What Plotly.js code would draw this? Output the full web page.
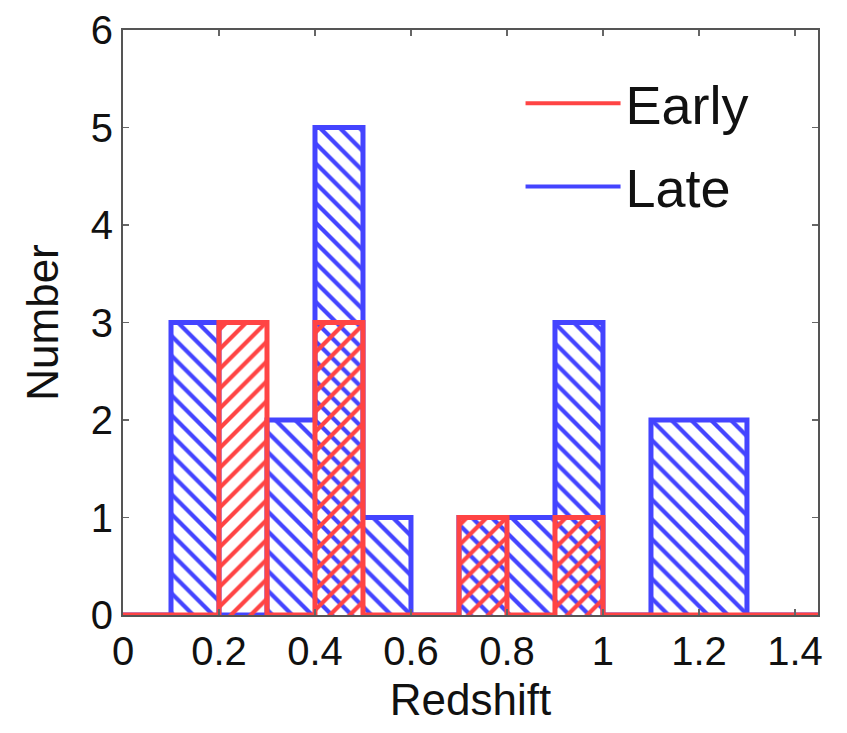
<!DOCTYPE html>
<html>
<head>
<meta charset="utf-8">
<script src="https://cdn.plot.ly/plotly-3.0.1.min.js"></script>
<style>
html,body{margin:0;padding:0;background:#fff;}
#chart{width:847px;height:733px;}
</style>
</head>
<body>
<div id="chart"></div>
<script>
// Bin edges (redshift) and counts per bin
const binEdges = [0, 0.1, 0.2, 0.3, 0.4, 0.5, 0.6, 0.7, 0.8, 0.9, 1.0, 1.1, 1.2, 1.3, 1.4];
const lateCounts  = [0, 3, 0, 2, 5, 1, 0, 1, 1, 3, 0, 2, 2, 0];
const earlyCounts = [0, 0, 3, 0, 3, 0, 0, 1, 0, 1, 0, 0, 0, 0];
const seriesNames = ["Early", "Late"];
const xTicks = [0, 0.2, 0.4, 0.6, 0.8, 1, 1.2, 1.4];
const yTicks = [0, 1, 2, 3, 4, 5, 6];
const xRange = [0, 1.448];

const RED = "#ff4444";
const BLUE = "#4444ff";

// step line: extend final bin value to the axis end so baseline spans the plot
function stepX(edges) { return edges.concat([xRange[1]]); }
function stepY(counts) { return counts.concat([counts[counts.length - 1], counts[counts.length - 1]]); }

const font = "Liberation Sans, Arial, Helvetica, sans-serif";

const traces = [
  {
    x: stepX(binEdges), y: stepY(lateCounts), type: "scatter", mode: "lines",
    line: {shape: "hv", color: BLUE, width: 5},
    fill: "tozeroy", fillcolor: "rgba(0,0,0,0)",
    fillpattern: {shape: "\\", fgcolor: BLUE, bgcolor: "rgba(0,0,0,0)", size: 14, solidity: 0.3},
    showlegend: false, hoverinfo: "skip", cliponaxis: false
  },
  {
    x: stepX(binEdges), y: stepY(earlyCounts), type: "scatter", mode: "lines",
    line: {shape: "hv", color: RED, width: 5},
    fill: "tozeroy", fillcolor: "rgba(0,0,0,0)",
    fillpattern: {shape: "/", fgcolor: RED, bgcolor: "rgba(0,0,0,0)", size: 14, solidity: 0.3},
    showlegend: false, hoverinfo: "skip", cliponaxis: false
  },
  {
    x: [null], y: [null], type: "scatter", mode: "lines", name: seriesNames[0],
    line: {color: RED, width: 4}, legendgroup: "a", showlegend: true
  },
  {
    x: [null], y: [null], type: "scatter", mode: "lines", name: seriesNames[1],
    line: {color: BLUE, width: 4}, legendgroup: "b", showlegend: true
  }
];

const axisCommon = {
  showline: true, mirror: "ticks", linecolor: "#555", linewidth: 2,
  ticks: "inside", ticklen: 6, tickcolor: "#666", tickwidth: 1.2,
  showgrid: false, zeroline: false,
  tickfont: {family: font, size: 40, color: "#111"}
};

const layout = {
  width: 847, height: 733,
  paper_bgcolor: "#fff", plot_bgcolor: "#fff",
  margin: {l: 123, r: 29, t: 30, b: 118},
  font: {family: font, color: "#111"},
  xaxis: Object.assign({}, axisCommon, {
    range: xRange, tickvals: xTicks, ticktext: xTicks.map(String),
    title: {text: "Redshift", font: {family: font, size: 44, color: "#111"}, standoff: 12}
  }),
  yaxis: Object.assign({}, axisCommon, {
    range: [0, 6], tickvals: yTicks, ticktext: yTicks.map(String),
    title: {text: "Number", font: {family: font, size: 44, color: "#111"}, standoff: 18}
  }),
  legend: {
    x: 0.572, y: 0.946, xanchor: "left", yanchor: "top",
    bgcolor: "rgba(0,0,0,0)", borderwidth: 0,
    font: {family: font, size: 54, color: "#111"},
    itemwidth: 95, tracegroupgap: 10, traceorder: "grouped"
  },
  showlegend: true
};

Plotly.newPlot("chart", traces, layout, {staticPlot: true, displayModeBar: false});
</script>
</body>
</html>
